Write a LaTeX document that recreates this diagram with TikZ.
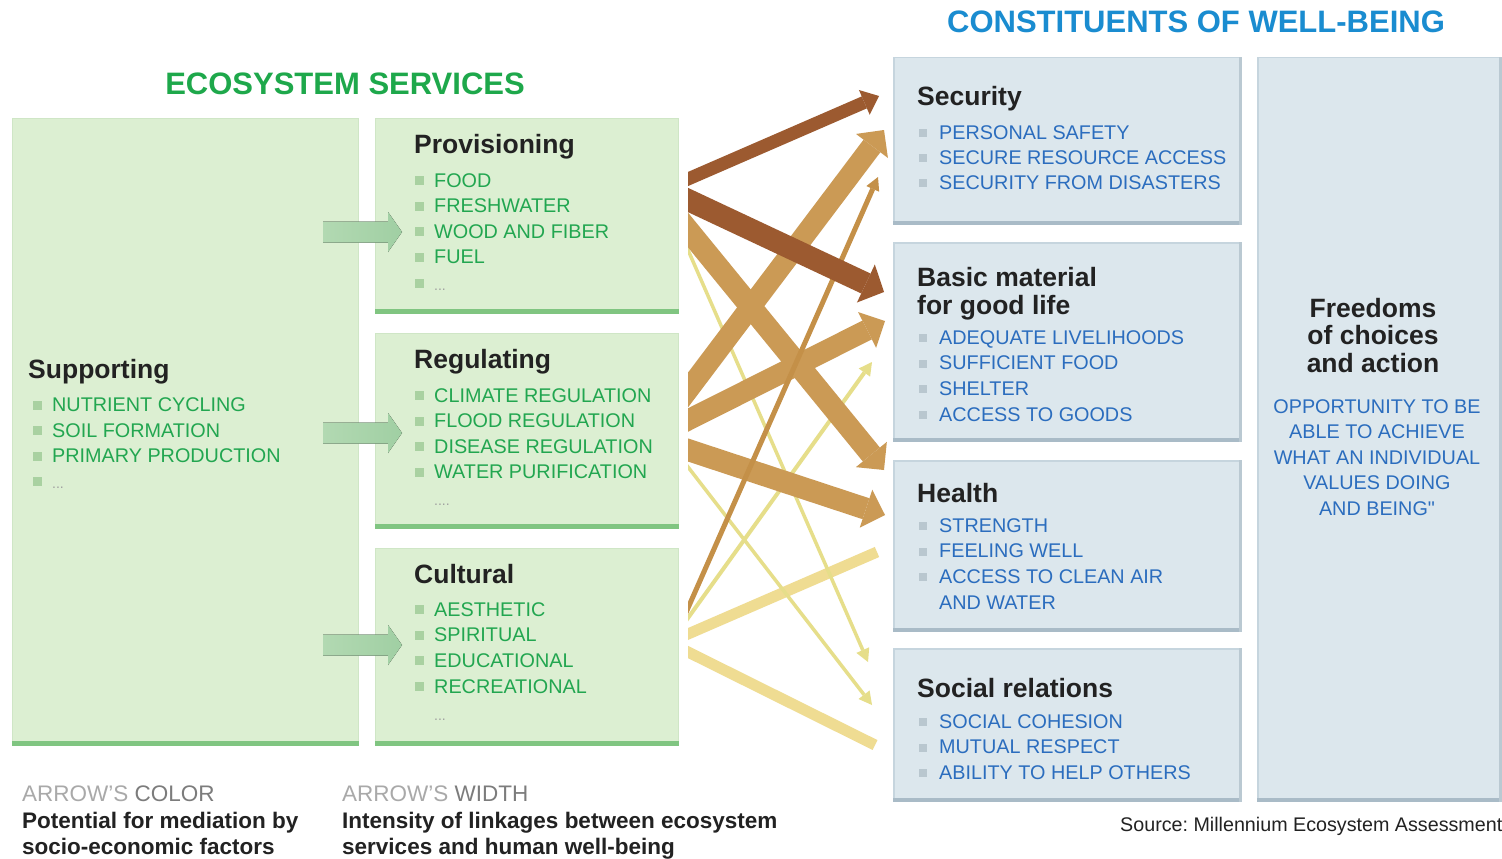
\documentclass[tikz,border=0pt]{standalone}
\usepackage{fontspec}
\setmainfont{Liberation Sans}
\newfontfamily\rawsans[Ligatures=ResetAll]{Liberation Sans}
\frenchspacing
\usetikzlibrary{arrows.meta,calc}
\definecolor{gfill}{HTML}{DCEFD2}
\definecolor{gedge}{HTML}{CFE6C6}
\definecolor{gstripe}{HTML}{80C581}
\definecolor{bfill}{HTML}{DCE7ED}
\definecolor{bedge}{HTML}{C6D5DE}
\definecolor{bstripe}{HTML}{A9BBC7}
\definecolor{gtitle}{HTML}{1EA84B}
\definecolor{gitemc}{HTML}{22A650}
\definecolor{btitle}{HTML}{1A8CD0}
\definecolor{bitemc}{HTML}{2B6DBE}
\definecolor{gbulc}{HTML}{A9D1A1}
\definecolor{bbulc}{HTML}{B9C7CF}
\definecolor{dotc}{HTML}{A0A0A0}
\definecolor{titlec}{HTML}{222222}
\definecolor{darkbrown}{HTML}{9C5A30}
\definecolor{tanc}{HTML}{CB9A55}
\definecolor{thintan}{HTML}{C49048}
\definecolor{lightyel}{HTML}{EFDC92}
\definecolor{thinyel}{HTML}{E6DE8A}
\definecolor{garrowl}{HTML}{B2D9B2}
\definecolor{garrowr}{HTML}{A0CFA3}
\definecolor{lgray}{HTML}{A9A9A9}
\definecolor{mgray}{HTML}{7C7C7C}
\newcommand\gbullet{\textcolor{gbulc}{\rule[2pt]{9pt}{9pt}}\hspace{10pt}}
\newcommand\bbullet{\textcolor{bbulc}{\rule[2pt]{8pt}{8pt}}\hspace{12pt}}
\newcommand\ecoflow[3]{\draw[#1] ($(#2)!-24pt!(#3)$) -- (#3);}
\begin{document}
\begin{tikzpicture}[x=1pt,y=-1pt,
  gbox/.style={inner sep=0pt, anchor=north west, fill=gfill, draw=gedge, line width=1.2pt},
  bbox/.style={inner sep=0pt, anchor=north west, fill=bfill, draw=bedge, line width=1.5pt},
  txt/.style={inner sep=0pt, anchor=base west},
  ttl/.style={txt, font=\fontsize{26.5pt}{28pt}\selectfont\bfseries, text=titlec},
  gitem/.style={txt, font=\fontsize{19.8pt}{24pt}\selectfont, text=gitemc},
  bitem/.style={txt, font=\fontsize{19.8pt}{24pt}\selectfont, text=bitemc},
  dots/.style={txt, font=\fontsize{14pt}{16pt}\selectfont, text=dotc},
  head/.style={inner sep=0pt, anchor=base, font=\fontsize{31pt}{33pt}\selectfont\bfseries},
  legend/.style={txt, font=\fontsize{22.5pt}{24pt}\selectfont},
  legendb/.style={txt, font=\fontsize{22.5pt}{24pt}\selectfont\bfseries, text=titlec},
  garrow/.style={left color=garrowl, right color=garrowr, draw=none},
  strong/.style={line width=22pt, -{Triangle[length=20pt,width=40pt,line width=0pt]}},
  thinarr/.style={line width=4pt, -{Triangle[length=13pt,width=14pt,line width=0pt]}}
]
\useasboundingbox (0,0) rectangle (1502,859);
\fill[white] (0,0) rectangle (1502,859);

% ---------- headings
\node[head, text=gtitle] (eshead) at (345,94) {ECOSYSTEM SERVICES};
\node[head, text=btitle] (cwhead) at (1196,33) {CONSTITUENTS OF WELL-BEING};

% ---------- green boxes
\node[gbox, minimum width=346pt, minimum height=627pt] (supbox) at (12,118) {};
\node[gbox, minimum width=303pt, minimum height=195pt] (provbox) at (375,118) {};
\node[gbox, minimum width=303pt, minimum height=195pt] (regbox) at (375,333) {};
\node[gbox, minimum width=303pt, minimum height=197pt] (cultbox) at (375,548) {};
\foreach \b in {supbox,provbox,regbox,cultbox}
  \fill[gstripe] (\b.south west) rectangle ([yshift=5pt]\b.south east);

% ---------- blue boxes
\node[bbox, minimum width=347pt, minimum height=166pt] (secbox) at (893,57) {};
\node[bbox, minimum width=347pt, minimum height=198pt] (basbox) at (893,242) {};
\node[bbox, minimum width=347pt, minimum height=170pt] (heabox) at (893,460) {};
\node[bbox, minimum width=347pt, minimum height=152pt] (socbox) at (893,648) {};
\node[bbox, minimum width=243pt, minimum height=743pt] (frebox) at (1257,57) {};
\foreach \b in {secbox,basbox,heabox,socbox,frebox}{
  \fill[bstripe] (\b.south west) rectangle ([yshift=4pt]\b.south east);
  \fill[bstripe!80] ([xshift=-3pt]\b.north east) rectangle (\b.south east);
}

% ---------- small green arrows
\foreach \yy [count=\k] in {232,433,645}
  \fill[garrow] (323,\yy-10.5) -- (388,\yy-10.5) -- (388,\yy-20) -- (402,\yy)
     -- (388,\yy+20) -- (388,\yy+10.5) -- (323,\yy+10.5) -- cycle;

% ---------- Supporting
\node[ttl] (supt) at (28,378) {Supporting};
\foreach \t [count=\i from 0] in {NUTRIENT CYCLING,SOIL FORMATION,PRIMARY PRODUCTION}
  \node[gitem] (sup\i) at (33,{411.5+25.7*\i}) {\gbullet\t};
\node[dots] (supd) at (33,488) {\gbullet ...};

% ---------- Provisioning
\node[ttl] (provt) at (414,153) {Provisioning};
\foreach \t [count=\i from 0] in {FOOD,FRESHWATER,WOOD AND FIBER,FUEL}
  \node[gitem] (prov\i) at (415,{187+25.5*\i}) {\gbullet\t};
\node[dots] (provd) at (415,290) {\gbullet ...};

% ---------- Regulating
\node[ttl] (regt) at (414,368) {Regulating};
\foreach \t [count=\i from 0] in {CLIMATE REGULATION,FLOOD REGULATION,DISEASE REGULATION,WATER PURIFICATION}
  \node[gitem] (reg\i) at (415,{402+25.5*\i}) {\gbullet\t};
\node[dots] (regd) at (434,505) {....};

% ---------- Cultural
\node[ttl] (cultt) at (414,583) {Cultural};
\foreach \t [count=\i from 0] in {AESTHETIC,SPIRITUAL,EDUCATIONAL,RECREATIONAL}
  \node[gitem] (cult\i) at (415,{616+25.7*\i}) {\gbullet\t};
\node[dots] (cultd) at (434,720) {...};

% ---------- Security
\node[ttl] (sect) at (917,105) {Security};
\foreach \t [count=\i from 0] in {PERSONAL SAFETY,SECURE RESOURCE ACCESS,SECURITY FROM DISASTERS}
  \node[bitem] (sec\i) at (919,{139+25*\i}) {\bbullet\t};

% ---------- Basic material
\node[ttl] (bast1) at (917,286) {Basic material};
\node[ttl] (bast2) at (917,314) {for good life};
\foreach \t [count=\i from 0] in {ADEQUATE LIVELIHOODS,SUFFICIENT FOOD,SHELTER,ACCESS TO GOODS}
  \node[bitem] (bas\i) at (919,{344+25.7*\i}) {\bbullet\t};

% ---------- Health
\node[ttl] (heat) at (917,502) {Health};
\foreach \t [count=\i from 0] in {STRENGTH,FEELING WELL,ACCESS TO CLEAN AIR}
  \node[bitem] (hea\i) at (919,{532+25.7*\i}) {\bbullet\t};
\node[bitem] (hea3) at (939,609) {AND WATER};

% ---------- Social relations
\node[ttl] (soct) at (917,697) {Social relations};
\foreach \t [count=\i from 0] in {SOCIAL COHESION,MUTUAL RESPECT,ABILITY TO HELP OTHERS}
  \node[bitem] (soc\i) at (919,{728+25.7*\i}) {\bbullet\t};

% ---------- Freedoms
\foreach \t [count=\i from 0] in {Freedoms,of choices,and action}
  \node[ttl, anchor=base] (fret\i) at (1373,{317+27.5*\i}) {\t};
\foreach \t [count=\i from 0] in {OPPORTUNITY TO BE,ABLE TO ACHIEVE,WHAT AN INDIVIDUAL,VALUES DOING}
  \node[bitem, anchor=base] (fre\i) at (1377,{413+25.6*\i}) {\t};
\node[bitem, anchor=base] (fre4) at (1377,515.4) {AND BEING{\rawsans"}};

% ---------- legend and source
\node[legend] (lc1) at (22,801) {\textcolor{lgray}{ARROW'S} \textcolor{mgray}{COLOR}};
\node[legendb] (lc2) at (22,828) {Potential for mediation by};
\node[legendb] (lc3) at (22,854) {socio-economic factors};
\node[legend] (lw1) at (342,801) {\textcolor{lgray}{ARROW'S} \textcolor{mgray}{WIDTH}};
\node[legendb] (lw2) at (342,828) {Intensity of linkages between ecosystem};
\node[legendb] (lw3) at (342,854) {services and human well-being};
\node[txt, font=\fontsize{19.7pt}{22pt}\selectfont, text=titlec] (src) at (1120,831) {Source: Millennium Ecosystem Assessment};

% ---------- linkage arrows
\coordinate (a1s) at (688,179); \coordinate (a1e) at (879,96);
\coordinate (a2s) at (688,200); \coordinate (a2e) at (884,292);
\coordinate (a3s) at (688,390); \coordinate (a3e) at (884,130);
\coordinate (a4s) at (688,420); \coordinate (a4e) at (885,321);
\coordinate (a5s) at (688,230); \coordinate (a5e) at (884,470);
\coordinate (a6s) at (688,450); \coordinate (a6e) at (885,515);
\coordinate (a7s) at (688,608); \coordinate (a7e) at (878,177);
\coordinate (a8s) at (688,618); \coordinate (a8e) at (872,362);
\coordinate (a9s) at (688,634); \coordinate (a9e) at (877,552);
\coordinate (a10s) at (688,652); \coordinate (a10e) at (875,745);
\coordinate (a11s) at (688,250); \coordinate (a11e) at (868,662);
\coordinate (a12s) at (688,467); \coordinate (a12e) at (872,705);
\begin{scope}
\clip (688,0) rectangle (1502,859);
\ecoflow{lightyel, line width=11pt}{a9s}{a9e}
\ecoflow{lightyel, line width=11pt}{a10s}{a10e}
\ecoflow{thinyel, thinarr, line width=3.5pt}{a11s}{a11e}
\ecoflow{thinyel, thinarr, line width=3.5pt}{a12s}{a12e}
\ecoflow{thinyel, thinarr}{a8s}{a8e}
\ecoflow{tanc, strong}{a5s}{a5e}
\ecoflow{tanc, strong}{a6s}{a6e}
\ecoflow{tanc, strong, line width=21pt}{a4s}{a4e}
\ecoflow{tanc, strong, line width=21pt}{a3s}{a3e}
\ecoflow{thintan, thinarr, line width=5pt}{a7s}{a7e}
\ecoflow{darkbrown, line width=13pt, -{Triangle[length=16pt,width=27pt,line width=0pt]}}{a1s}{a1e}
\ecoflow{darkbrown, strong, -{Triangle[length=20pt,width=42pt,line width=0pt]}}{a2s}{a2e}
\end{scope}
\end{tikzpicture}
\end{document}
